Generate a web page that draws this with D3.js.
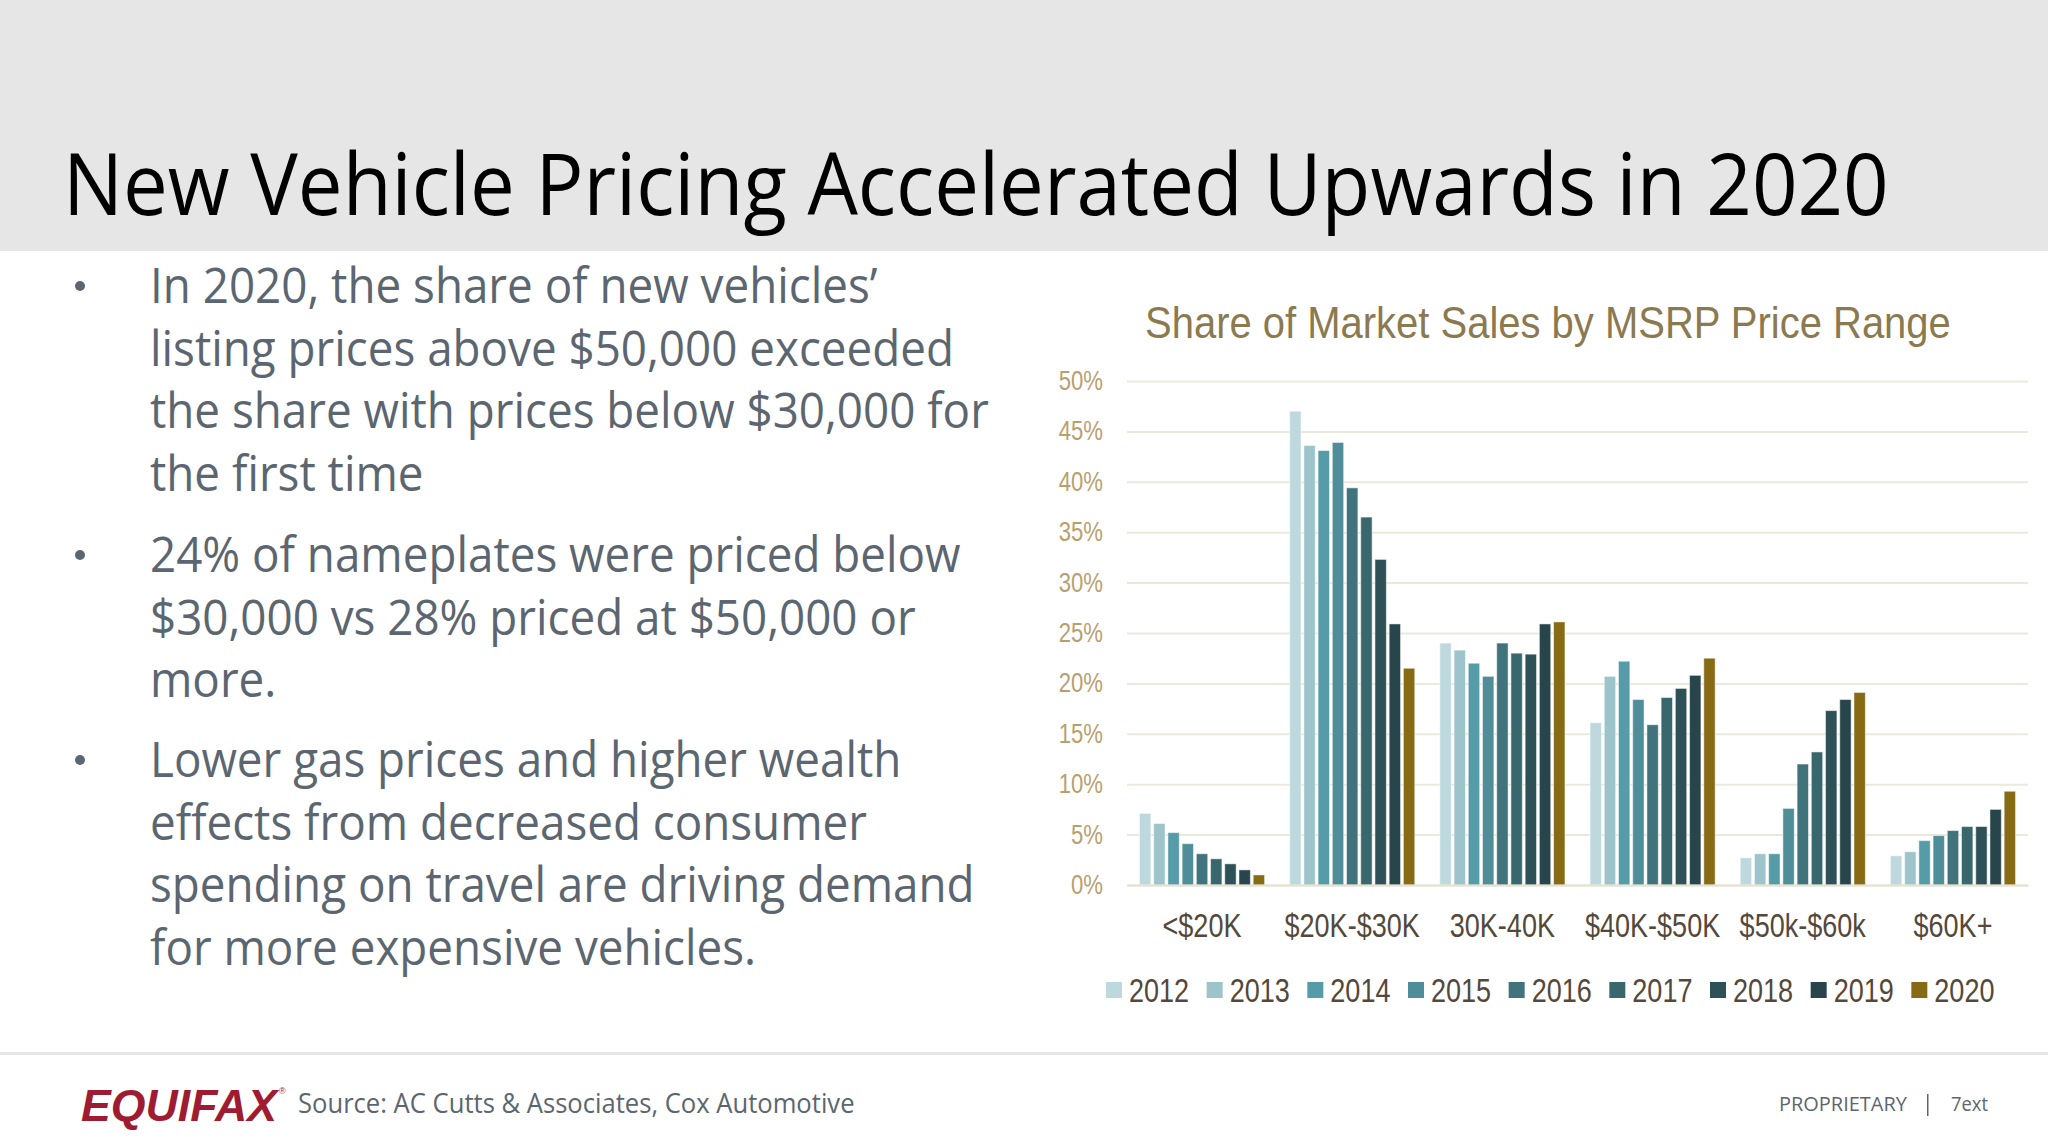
<!DOCTYPE html>
<html><head><meta charset="utf-8">
<script src="https://cdn.jsdelivr.net/npm/d3@7"></script>
<style>html,body{margin:0;padding:0;background:#fff;}svg{display:block;}</style>
</head><body>
<svg id="c" width="2048" height="1142"></svg>
<script>
const categories = ["<$20K", "$20K-$30K", "30K-40K", "$40K-$50K", "$50k-$60k", "$60K+"];
const years = ["2012","2013","2014","2015","2016","2017","2018","2019","2020"];
const s2012 = [7.1, 47.0, 24.0, 16.1, 2.7, 2.9];
const s2013 = [6.1, 43.6, 23.3, 20.7, 3.1, 3.3];
const s2014 = [5.2, 43.1, 22.0, 22.2, 3.1, 4.4];
const s2015 = [4.1, 43.9, 20.7, 18.4, 7.6, 4.9];
const s2016 = [3.1, 39.4, 24.0, 15.9, 12.0, 5.4];
const s2017 = [2.6, 36.5, 23.0, 18.6, 13.2, 5.8];
const s2018 = [2.1, 32.3, 22.9, 19.5, 17.3, 5.8];
const s2019 = [1.5, 25.9, 25.9, 20.8, 18.4, 7.5];
const s2020 = [1.0, 21.5, 26.1, 22.5, 19.1, 9.3];
const yTicks = [0, 5, 10, 15, 20, 25, 30, 35, 40, 45, 50];
const colors = ["#bdd9dd","#9cc4ca","#569ba8","#4f8e98","#41737c","#38686e","#2e5057","#27454b","#866a14"];

const seriesList = [s2012,s2013,s2014,s2015,s2016,s2017,s2018,s2019,s2020];
const rows = categories.map((c, i) => ({cat: c, vals: years.map((y, j) => ({year: y, v: seriesList[j][i]}))}));

const svg = d3.select("#c");

// helper: text squeezed/fit horizontally
function fitText(g, str, x, y, opts) {
  const t = g.append("text").text(str)
    .attr("font-family", opts.family).attr("font-size", opts.size)
    .attr("fill", opts.fill).attr("font-weight", opts.weight || "normal")
    .attr("font-style", opts.style || "normal");
  const w = t.node().getComputedTextLength();
  let sx = opts.sx || 1;
  if (opts.width) sx = opts.width / w;
  let ax = x;
  if (opts.anchor === "middle") ax = x - w * sx / 2;
  else if (opts.anchor === "end") ax = x - w * sx;
  t.attr("transform", `translate(${ax},${y}) scale(${sx},1)`);
  return t;
}

// header
svg.append("rect").attr("x",0).attr("y",0).attr("width",2048).attr("height",251).attr("fill","#e6e6e6");
fitText(svg, "New Vehicle Pricing Accelerated Upwards in 2020", 63, 215,
  {family:"'Open Sans'", size:86, fill:"#000", width:1826});

// bullets
const bullets = [
  {y:303, lines:["In 2020, the share of new vehicles\u2019","listing prices above $50,000 exceeded","the share with prices below $30,000 for","the first time"]},
  {y:572, lines:["24% of nameplates were priced below","$30,000 vs 28% priced at $50,000 or","more."]},
  {y:777, lines:["Lower gas prices and higher wealth","effects from decreased consumer","spending on travel are driving demand","for more expensive vehicles."]}
];
// measure scale factor from reference line
const probe = svg.append("text").attr("font-family","'Open Sans'").attr("font-size",50).text("the share with prices below $30,000 for");
const bsx = 839 / probe.node().getComputedTextLength();
probe.remove();
bullets.forEach(b => {
  svg.append("circle").attr("cx",80).attr("cy",b.y-17).attr("r",5).attr("fill","#5b6670");
  b.lines.forEach((l, i) => {
    fitText(svg, l, 150, b.y + i*62.7, {family:"'Open Sans'", size:50, fill:"#5b6670", sx:bsx});
  });
});

// chart
const x0 = d3.scaleBand().domain(categories).range([1127, 2028]).paddingInner(0.167).paddingOuter(0.083);
const x1 = d3.scaleBand().domain(years).range([0, x0.bandwidth()]).paddingInner(0.2);
const y = d3.scaleLinear().domain([0, 50]).range([885, 381]);
const color = d3.scaleOrdinal().domain(years).range(colors);

fitText(svg, "Share of Market Sales by MSRP Price Range", 1145, 338,
  {family:"'Liberation Sans', Arial, sans-serif", size:44, fill:"#8b7a4f", width:806});

const grid = svg.append("g").attr("transform","translate(1127,0)")
  .call(d3.axisLeft(y).tickValues(yTicks).tickSize(-901).tickFormat(""));
grid.select(".domain").remove();
grid.selectAll(".tick line").attr("stroke","#ece9dc").attr("stroke-width",2);

const tickG = svg.append("g");
yTicks.forEach(t => {
  fitText(tickG, t + "%", 1103, y(t) + 9, {family:"'Liberation Sans', Arial, sans-serif", size:27, fill:"#b8a06e", sx:0.82, anchor:"end"});
});

svg.append("g").selectAll("g").data(rows).join("g")
  .attr("transform", d => `translate(${x0(d.cat)},0)`)
  .selectAll("rect").data(d => d.vals).join("rect")
  .attr("x", d => x1(d.year)).attr("width", x1.bandwidth())
  .attr("y", d => y(d.v)).attr("height", d => y(0) - y(d.v))
  .attr("fill", d => color(d.year))
  .attr("stroke", "#ffffff").attr("stroke-opacity", 0.5).attr("stroke-width", 1);

const xAxis = svg.append("g").attr("transform","translate(0,885)").call(d3.axisBottom(x0).tickSize(0).tickFormat(""));
xAxis.select(".domain").attr("stroke","#e6e2d2").attr("stroke-width",2);

const xl = svg.append("g");
categories.forEach(c => {
  fitText(xl, c, x0(c) + x0.bandwidth()/2, 937, {family:"'Liberation Sans', Arial, sans-serif", size:33, fill:"#54483a", sx:0.82, anchor:"middle"});
});

// legend
const legX = d3.scaleBand().domain(years).range([1106, 2012]).paddingInner(0);
const lg = svg.append("g");
years.forEach(yr => {
  lg.append("rect").attr("x", legX(yr)).attr("y", 982).attr("width", 16).attr("height", 16).attr("fill", color(yr));
  fitText(lg, yr, legX(yr) + 23, 1002, {family:"'Liberation Sans', Arial, sans-serif", size:33, fill:"#54483a", sx:0.82});
});

// footer
svg.append("rect").attr("x",0).attr("y",1052).attr("width",2048).attr("height",3).attr("fill","#e6e6e6");
fitText(svg, "EQUIFAX", 81, 1121, {family:"'Liberation Sans', Arial, sans-serif", size:44, fill:"#9e1b32", weight:"bold", style:"italic", width:196});
svg.append("text").attr("x",279).attr("y",1094).attr("font-family","'Liberation Sans', Arial").attr("font-size",9).attr("fill","#9e1b32").text("\u00ae");
fitText(svg, "Source: AC Cutts & Associates, Cox Automotive", 298, 1113, {family:"'Open Sans'", size:27, fill:"#5b6670", width:557});
fitText(svg, "PROPRIETARY", 1779, 1111, {family:"'Open Sans'", size:20, fill:"#5b6670", width:128});
svg.append("rect").attr("x",1927).attr("y",1094).attr("width",1.5).attr("height",22).attr("fill","#5b6670");
fitText(svg, "7ext", 1951, 1111, {family:"'Open Sans'", size:20, fill:"#5b6670", width:37});
</script>
</body></html>
